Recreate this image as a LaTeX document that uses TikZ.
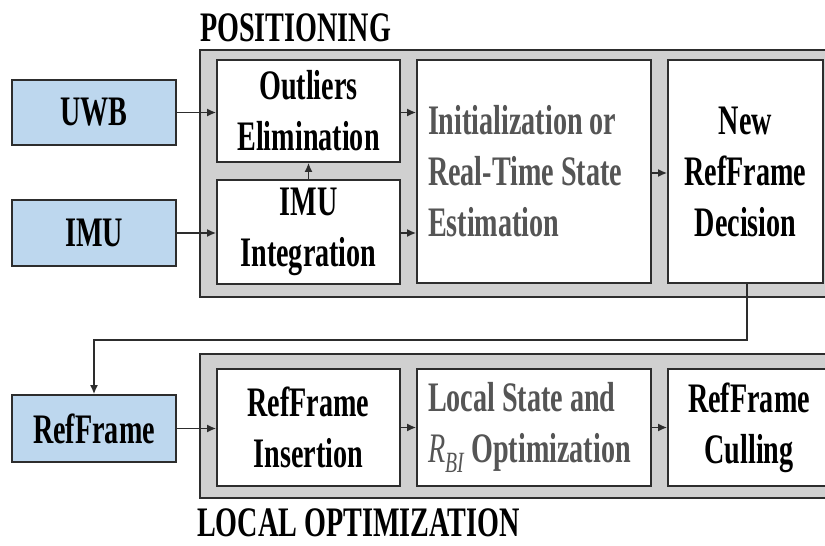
\documentclass[tikz,border=0pt]{standalone}
\usepackage{fontspec}
\setmainfont[FakeStretch=0.67]{Liberation Serif}
\usetikzlibrary{arrows.meta}
\definecolor{inblue}{RGB}{189,215,238}
\definecolor{contgray}{RGB}{208,208,208}
\definecolor{edge}{RGB}{45,45,45}
\definecolor{txtgray}{RGB}{85,85,85}
\begin{document}
\begin{tikzpicture}[x=1pt,y=-1pt,
  every node/.style={font=\fontsize{42}{51}\selectfont\bfseries, align=center, inner sep=0pt},
  inbox/.style={draw=edge, line width=1.6pt, fill=inblue, minimum width=164pt},
  stage/.style={draw=edge, line width=1.6pt, fill=white},
  graystage/.style={stage, text=txtgray, align=flush left, text width=212pt, inner xsep=11pt, minimum width=234pt},
  container/.style={draw=edge, line width=1.8pt, fill=contgray},
  conn/.style={draw=edge, line width=1.8pt, -{Latex[length=9pt,width=8pt]}},
  title/.style={anchor=base west, text depth=0pt}
]
\clip (0,0) rectangle (825,546);
\fill[white] (0,0) rectangle (825,546);

% containers
\node[container, minimum width=668pt, minimum height=247pt] (pos) at (534,173.5) {};
\node[container, minimum width=668pt, minimum height=144pt] (loc) at (534,426) {};

% titles
\node[title] (postitle) at (200,41) {POSITIONING};
\node[title] (loctitle) at (197,536) {LOCAL OPTIMIZATION};

% inputs
\node[inbox, minimum height=65pt] (uwb) at (94,112.5) {UWB};
\node[inbox, minimum height=66pt] (imu) at (94,233) {IMU};
\node[inbox, minimum height=67pt] (rf) at (94,428.5) {RefFrame};

% positioning stages
\node[stage, minimum width=183pt, minimum height=102pt] (out) at (308.5,111) {Outliers\\Elimination};
\node[stage, minimum width=183pt, minimum height=104pt] (imuint) at (308.5,232) {IMU\\Integration};
\node[graystage, minimum height=223pt] (init) at (534,171.5) {Initialization or\\Real-Time State\\Estimation};
\node[stage, minimum width=155pt, minimum height=223pt] (dec) at (745.5,171.5) {New\\RefFrame\\Decision};

% local optimization stages
\node[stage, minimum width=183pt, minimum height=117pt] (ins) at (308.5,427.5) {RefFrame\\Insertion};
\node[graystage, minimum height=117pt] (lso) at (534,427.5) {Local State and\\{\mdseries\itshape R}\textsubscript{\mdseries\itshape BI} Optimization};
\node[stage, minimum width=162pt, minimum height=117pt] (cull) at (749,427.5) {RefFrame\\Culling};

% connectors
\draw[conn] (uwb.east) -- (uwb.east -| out.west);
\draw[conn] (imu.east) -- (imu.east -| imuint.west);
\draw[conn] (imuint.north) -- (out.south);
\draw[conn] (out.east |- uwb.east) -- (init.west |- uwb.east);
\draw[conn] (imuint.east |- imu.east) -- (init.west |- imu.east);
\draw[conn] (init.east |- 0,173) -- (dec.west |- 0,173);
\coordinate (bend) at (747,340);
\draw[conn] ([xshift=1.5pt]dec.south) -- (bend) -| (rf.north);
\draw[conn] (rf.east) -- (rf.east -| ins.west);
\draw[conn] (ins.east) -- (lso.west);
\draw[conn] (lso.east) -- (cull.west);
\end{tikzpicture}
\end{document}
